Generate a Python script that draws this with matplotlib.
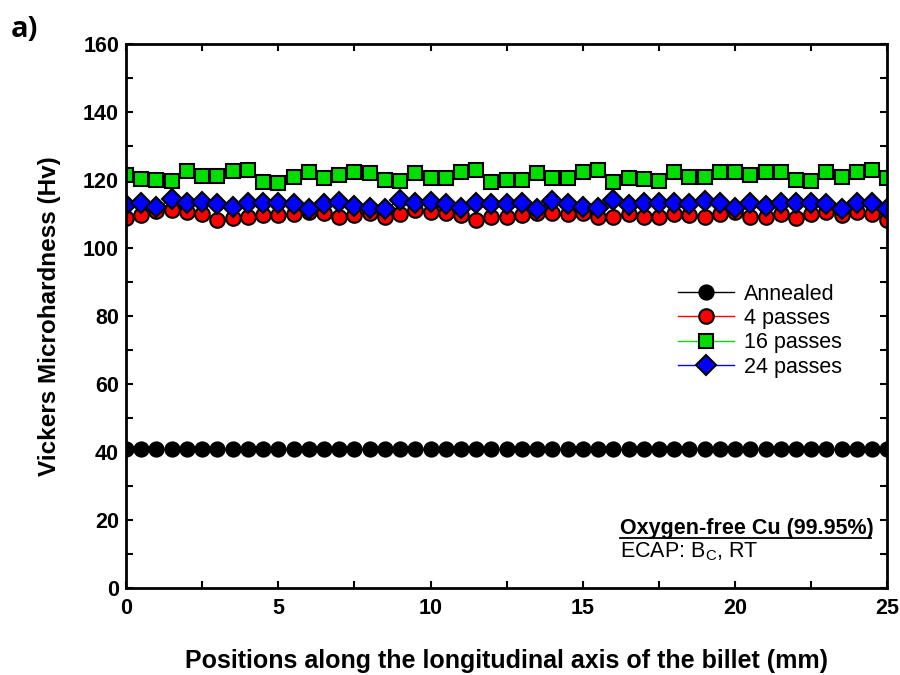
import numpy as np
import matplotlib.pyplot as plt
from matplotlib.ticker import MultipleLocator

# positions along billet (mm)
pos = np.arange(0, 25.01, 0.5)

annealed = [41.0] * 51

passes4 = [108.9, 109.7, 110.8, 111.2, 110.5, 109.9, 108.2, 108.9, 109.2, 109.7, 109.7, 109.9, 110.5, 110.2, 109.2, 109.7, 110.2,
           109.2, 109.9, 111.2, 110.7, 110.2, 109.7, 108.2, 109.2, 109.2, 109.7, 110.2, 110.2, 109.9, 110.2, 109.2, 109.2,
           109.9, 109.2, 109.2, 109.9, 109.7, 109.2, 109.9, 110.7, 109.2, 109.2, 109.9, 108.9, 109.9, 110.7, 109.7, 110.7,
           109.9, 108.2]

passes16 = [121.3, 120.3, 120.0, 119.8, 122.5, 121.0, 121.0, 122.5, 122.8, 119.5, 119.0, 120.8, 122.3, 120.5, 121.5, 122.3, 122.0,
            120.0, 119.7, 122.1, 120.7, 120.7, 122.3, 122.8, 119.5, 120.0, 120.0, 122.1, 120.7, 120.7, 122.3, 122.8, 119.5,
            120.5, 120.3, 119.8, 122.3, 120.8, 120.8, 122.3, 122.3, 121.5, 122.3, 122.3, 120.0, 119.8, 122.3, 120.8, 122.3,
            122.8, 120.7]

passes24 = [112.6, 113.3, 112.0, 114.3, 113.3, 113.6, 112.9, 112.0, 113.1, 113.3, 113.3, 112.8, 111.4, 112.9, 113.6, 112.2, 111.7,
            111.4, 114.1, 113.1, 113.6, 112.8, 111.7, 113.1, 112.8, 112.8, 113.1, 111.4, 113.8, 112.8, 112.0, 111.7, 114.1,
            112.6, 113.1, 113.1, 113.1, 112.8, 113.8, 113.1, 111.7, 113.1, 112.2, 113.1, 113.1, 113.1, 112.8, 111.4, 113.1,
            113.3, 111.4]

plt.rcParams['font.family'] = ['Liberation Sans', 'DejaVu Sans']

fig = plt.figure(figsize=(9, 6.75), dpi=100)
ax = fig.add_axes([0.14, 0.129, 0.846, 0.806])

ax.plot(pos, annealed, '-o', color='black', mfc='black', mec='black', mew=1.2, ms=10.5, lw=1, label='Annealed')
ax.plot(pos, passes4, '-o', color='red', mfc='red', mec='black', mew=1.5, ms=10.5, lw=1, label='4 passes')
ax.plot(pos, passes16, '-s', color='#00e000', mfc='#00e000', mec='black', mew=1.5, ms=10, lw=1, label='16 passes')
ax.plot(pos, passes24, '-D', color='blue', mfc='blue', mec='black', mew=1.5, ms=10, lw=1, label='24 passes')

ax.set_xlim(0, 25)
ax.set_ylim(0, 160)
ax.xaxis.set_major_locator(MultipleLocator(5))
ax.xaxis.set_minor_locator(MultipleLocator(2.5))
ax.yaxis.set_major_locator(MultipleLocator(20))
ax.yaxis.set_minor_locator(MultipleLocator(10))
ax.tick_params(which='both', direction='in', top=True, right=True, width=1.5, length=5)
ax.tick_params(axis='y', which='major', labelsize=15.5, pad=5)
ax.tick_params(axis='x', which='major', labelsize=15.5, pad=7)
for lab in ax.get_xticklabels() + ax.get_yticklabels():
    lab.set_fontweight('bold')
for sp in ax.spines.values():
    sp.set_linewidth(2)

ax.set_xlabel('Positions along the longitudinal axis of the billet (mm)', fontsize=18, fontweight='bold', labelpad=22)
ax.set_ylabel('Vickers Microhardness (Hv)', fontsize=17.5, fontweight='bold', labelpad=16)

ax.legend(loc='upper left', bbox_to_anchor=(0.70, 0.595), frameon=False, fontsize=15.5,
          handlelength=2.6, labelspacing=0.16, handletextpad=0.45)

ax.text(0.649, 0.099, 'Oxygen-free Cu (99.95%)', transform=ax.transAxes, fontsize=15.5, fontweight='bold')
ax.plot([0.649, 0.978], [0.091, 0.091], transform=ax.transAxes, color='black', lw=1.3)
ax.text(0.649, 0.057, r'ECAP: B$_\mathregular{C}$, RT', transform=ax.transAxes, fontsize=15.5)

fig.text(0.012, 0.945, 'a)', fontsize=21, fontweight='bold', family='Open Sans')

fig.savefig('out.png', dpi=100)
